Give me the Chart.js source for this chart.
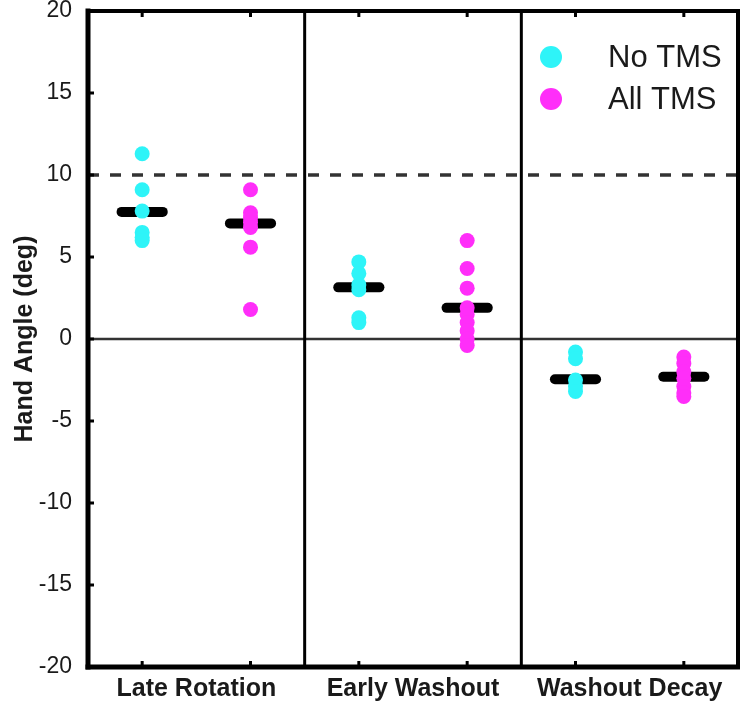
<!DOCTYPE html>
<html>
<head>
<meta charset="utf-8">
<script src="https://cdn.jsdelivr.net/npm/chart.js@4/dist/chart.umd.min.js"></script>
<style>
  html, body { margin: 0; padding: 0; background: #fff; }
  #wrap { width: 740px; height: 704px; position: relative; }
</style>
</head>
<body>
<div id="wrap"><canvas id="myChart"></canvas></div>
<script>
const categories = ['Late Rotation', 'Early Washout', 'Washout Decay'];
const seriesNames = ['No TMS', 'All TMS'];

// individual subjects
const noTms = [
  [11.3, 9.1, 7.8, 6.5, 6.2, 6.0],
  [4.7, 4.0, 3.3, 3.0, 1.3, 1.0],
  [-0.8, -1.2, -2.5, -2.9, -3.2]
];
const allTms = [
  [9.1, 7.7, 7.4, 7.1, 6.8, 5.6, 1.8],
  [6.0, 4.3, 3.1, 1.9, 1.5, 1.0, 0.5, 0.0, -0.4],
  [-1.1, -1.5, -2.0, -2.4, -2.9, -3.3, -3.5]
];
const noTmsMean = [7.75, 3.15, -2.45];
const allTmsMean = [7.05, 1.9, -2.3];

const yTicks = [-20, -15, -10, -5, 0, 5, 10, 15, 20];
const targetLine = 10;

const cyan = '#2ef4f8';
const magenta = '#ff2ef9';
const ink = '#1a1a1a';
const font = "'Liberation Sans', Arial, Helvetica, sans-serif";

// each phase takes 2 units on x; No TMS at +0.5, All TMS at +1.5
const xOf = (i, s) => i * 2 + 0.5 + s;
const halfBar = 0.19;

function pointsFor(groups, s) {
  const out = [];
  groups.forEach((vals, i) => vals.forEach(v => out.push({ x: xOf(i, s), y: v })));
  return out;
}

const datasets = [
  { label: seriesNames[0], type: 'scatter', data: pointsFor(noTms, 0),
    backgroundColor: cyan, borderWidth: 0, pointRadius: 7.5 },
  { label: seriesNames[1], type: 'scatter', data: pointsFor(allTms, 1),
    backgroundColor: magenta, borderWidth: 0, pointRadius: 7.5 }
];
[noTmsMean, allTmsMean].forEach((means, s) => {
  means.forEach((m, i) => {
    datasets.push({
      type: 'line',
      data: [{ x: xOf(i, s) - halfBar, y: m }, { x: xOf(i, s) + halfBar, y: m }],
      borderColor: '#000', borderWidth: 10, borderCapStyle: 'round',
      pointRadius: 0, fill: false
    });
  });
});

const framePlugin = {
  id: 'frame',
  beforeDatasetsDraw(chart) {
    const { ctx, chartArea: a, scales: { x, y } } = chart;
    ctx.save();
    // zero line
    const y0 = y.getPixelForValue(0);
    ctx.strokeStyle = '#333';
    ctx.lineWidth = 2.5;
    ctx.beginPath(); ctx.moveTo(a.left, y0); ctx.lineTo(a.right, y0); ctx.stroke();
    // dashed target line
    const yt = y.getPixelForValue(targetLine);
    ctx.lineWidth = 3.5;
    ctx.setLineDash([11, 11]);
    ctx.beginPath(); ctx.moveTo(a.left, yt); ctx.lineTo(a.right, yt); ctx.stroke();
    ctx.setLineDash([]);
    // phase dividers
    ctx.strokeStyle = '#000';
    ctx.lineWidth = 3;
    for (let i = 1; i < categories.length; i++) {
      const px = x.getPixelForValue(i * 2);
      ctx.beginPath(); ctx.moveTo(px, a.top); ctx.lineTo(px, a.bottom); ctx.stroke();
    }
    ctx.restore();
  },
  afterDatasetsDraw(chart) {
    const { ctx, chartArea: a, scales: { x, y } } = chart;
    ctx.save();
    ctx.strokeStyle = '#000';
    ctx.lineCap = 'square';
    ctx.lineWidth = 4;
    ctx.beginPath(); ctx.moveTo(a.left, a.top); ctx.lineTo(a.right, a.top); ctx.stroke();
    ctx.beginPath(); ctx.moveTo(a.right, a.top); ctx.lineTo(a.right, a.bottom); ctx.stroke();
    ctx.lineWidth = 5;
    ctx.beginPath(); ctx.moveTo(a.left, a.top); ctx.lineTo(a.left, a.bottom); ctx.stroke();
    ctx.beginPath(); ctx.moveTo(a.left, a.bottom); ctx.lineTo(a.right, a.bottom); ctx.stroke();
    // small inward ticks
    ctx.lineCap = 'butt';
    ctx.lineWidth = 3;
    yTicks.forEach(v => {
      const py = y.getPixelForValue(v);
      ctx.beginPath(); ctx.moveTo(a.left, py); ctx.lineTo(a.left + 6, py); ctx.stroke();
    });
    categories.forEach((c, i) => {
      [0, 1].forEach(s => {
        const px = x.getPixelForValue(xOf(i, s));
        ctx.beginPath(); ctx.moveTo(px, a.bottom); ctx.lineTo(px, a.bottom - 6); ctx.stroke();
        ctx.beginPath(); ctx.moveTo(px, a.top); ctx.lineTo(px, a.top + 6); ctx.stroke();
      });
    });
    // legend
    const lx = a.right - 187, ly = a.top + 46, gap = 42;
    ctx.font = '31px ' + font;
    ctx.textBaseline = 'middle';
    ctx.fillStyle = ink;
    [cyan, magenta].forEach((col, k) => {
      ctx.fillStyle = col;
      ctx.beginPath(); ctx.arc(lx, ly + k * gap, 11, 0, Math.PI * 2); ctx.fill();
      ctx.fillStyle = ink;
      ctx.fillText(seriesNames[k], lx + 57, ly + k * gap + 1);
    });
    ctx.restore();
  }
};

new Chart('myChart', {
  type: 'scatter',
  data: { datasets },
  options: {
    responsive: true,
    maintainAspectRatio: false,
    animation: false,
    layout: { autoPadding: false, padding: { top: 11, right: 2, left: 0, bottom: 0 } },
    plugins: { legend: { display: false }, tooltip: { enabled: false } },
    scales: {
      x: {
        type: 'linear', min: 0, max: 6,
        grid: { display: false, drawTicks: false },
        border: { display: false },
        afterBuildTicks: s => { s.ticks = categories.map((c, i) => ({ value: i * 2 + 1 })); },
        afterFit: s => { s.height = 37; s.paddingLeft = 0; s.paddingRight = 0; },
        ticks: {
          padding: 7, color: ink, maxRotation: 0, autoSkip: false,
          font: { family: font, size: 25, weight: 'bold' },
          callback: v => categories[(v - 1) / 2]
        }
      },
      y: {
        min: -20, max: 20,
        grid: { display: false, drawTicks: false },
        border: { display: false },
        afterBuildTicks: s => { s.ticks = yTicks.map(v => ({ value: v })); },
        afterFit: s => { s.width = 88; s.paddingTop = 0; s.paddingBottom = 0; },
        ticks: { padding: 16, color: ink, font: { family: font, size: 23 } },
        title: {
          display: true, text: 'Hand Angle (deg)', color: ink,
          padding: { top: 10, bottom: 0 },
          font: { family: font, size: 25, weight: 'bold' }
        }
      }
    }
  },
  plugins: [framePlugin]
});
</script>
</body>
</html>
